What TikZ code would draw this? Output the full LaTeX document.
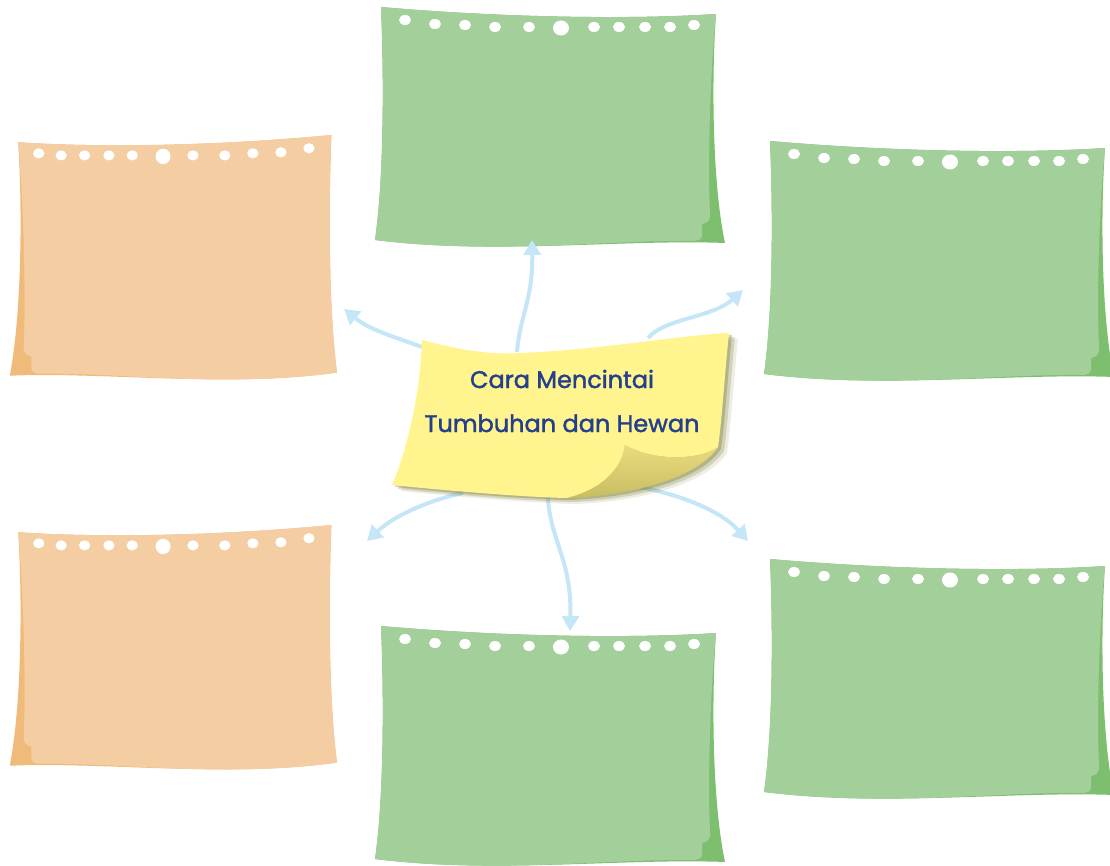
\documentclass[tikz,border=0pt]{standalone}
\usepackage{fontspec}
\setmainfont{Poppins}
\newfontfamily\titlefont{Poppins}[FakeBold=1.6]
\usetikzlibrary{arrows.meta}
\definecolor{glight}{HTML}{A3CF9B}
\definecolor{gdark}{HTML}{7DBF6F}
\definecolor{olight}{HTML}{F4CEA2}
\definecolor{odark}{HTML}{F0BA7A}
\definecolor{noteyel}{HTML}{FFF48E}
\definecolor{flaptop}{HTML}{E8DC7E}
\definecolor{flapbot}{HTML}{C9BD62}
\definecolor{shadowc}{HTML}{6E6E1E}
\definecolor{arrowc}{HTML}{C4E6F6}
\definecolor{textc}{HTML}{243F8C}
\newcommand{\paperdraw}[2]{%
 \fill[#1] (6,0) .. controls (120,10) and (250,13) .. (341,7)
   .. controls (336,80) and (338,180) .. (350,236)
   .. controls (250,232) and (120,248) .. (0,233)
   .. controls (9,170) and (9,70) .. (6,0) -- cycle;
 \fill[#2] (6,0) .. controls (120,10) and (250,13) .. (341,7)
   .. controls (334,80) and (333,170) .. (335,205)
   .. controls (336,213) and (333,216) .. (327,217)
   -- (327,228) .. controls (327,233) and (323,234) .. (316,234)
   .. controls (230,233) and (120,248) .. (0,233)
   .. controls (9,170) and (9,70) .. (6,0) -- cycle;
 \foreach \hx/\hy in {30/13,60/17,90/18,120/20,154/20,219/20,244/20,270/20,295/20,319/18}
   \fill[white] (\hx,\hy) ellipse [x radius=6, y radius=5];
 \fill[white] (186,21) ellipse [x radius=8, y radius=7.5];
}
\newcommand{\noteoutline}{(422,340) .. controls (460,350) and (490,355) .. (520,353)
   .. controls (600,350) and (680,335) .. (729,333)
   .. controls (725,370) and (722,420) .. (718,447)
   .. controls (700,475) and (640,495) .. (567,498)
   .. controls (520,497) and (440,490) .. (392,485)
   .. controls (405,455) and (420,400) .. (422,340) -- cycle}
\tikzset{conn/.style={draw=arrowc, line width=4pt, -{Triangle[width=17pt,length=15pt]}}}
\begin{document}
\begin{tikzpicture}[x=1pt,y=-1pt]
\useasboundingbox (0,0) rectangle (1110,866);
% papers
\begin{scope}[shift={(375,7)}] \paperdraw{gdark}{glight} \end{scope}
\begin{scope}[shift={(764,141)}] \paperdraw{gdark}{glight} \end{scope}
\begin{scope}[shift={(764,559)}] \paperdraw{gdark}{glight} \end{scope}
\begin{scope}[shift={(375,626)}] \paperdraw{gdark}{glight} \end{scope}
\begin{scope}[shift={(337,135)},xscale=-0.935,yscale=1.02] \paperdraw{odark}{olight} \end{scope}
\begin{scope}[shift={(337,525)},xscale=-0.935,yscale=1.02] \paperdraw{odark}{olight} \end{scope}
% connectors
\coordinate (s1) at (517,352); \coordinate (e1) at (532,240);
\coordinate (s2) at (422,347); \coordinate (e2) at (344,309);
\coordinate (s3) at (648,338); \coordinate (e3) at (743,290);
\coordinate (s4) at (463,493); \coordinate (e4) at (367,541);
\coordinate (s5) at (548,498); \coordinate (e5) at (570,631);
\coordinate (s6) at (640,487); \coordinate (e6) at (748,541);
\draw[conn] (s1) .. controls (520,315) and (533,300) .. (e1);
\draw[conn] (s2) .. controls (392,336) and (370,330) .. (e2);
\draw[conn] (s3) .. controls (665,318) and (712,318) .. (e3);
\draw[conn] (s4) .. controls (430,500) and (395,515) .. (e4);
\draw[conn] (s5) .. controls (550,540) and (572,560) .. (e5);
\draw[conn] (s6) .. controls (680,495) and (720,510) .. (e6);
% sticky note shadow
\fill[shadowc,opacity=0.3] [shift={(3,2)}] \noteoutline;
\fill[shadowc,opacity=0.22] [shift={(6,4)}] \noteoutline;
\fill[shadowc,opacity=0.12] [shift={(9,6)}] \noteoutline;
% note body
\fill[noteyel] (422,340) .. controls (460,350) and (490,355) .. (520,353)
   .. controls (600,350) and (680,335) .. (729,333)
   .. controls (725,370) and (722,420) .. (718,447)
   .. controls (700,460) and (655,462) .. (625,445)
   .. controls (622,470) and (600,490) .. (567,498)
   .. controls (520,497) and (440,490) .. (392,485)
   .. controls (405,455) and (420,400) .. (422,340) -- cycle;
\shade[top color=flaptop,bottom color=flapbot] (625,445) .. controls (655,462) and (700,460) .. (718,447)
   .. controls (700,475) and (640,495) .. (567,498)
   .. controls (600,490) and (622,470) .. (625,445) -- cycle;
\node[text=textc, align=center, font=\titlefont\fontsize{24}{44}\selectfont, inner sep=0pt] (title) at (562,401) {Cara Mencintai\\Tumbuhan dan Hewan};
\end{tikzpicture}
\end{document}
